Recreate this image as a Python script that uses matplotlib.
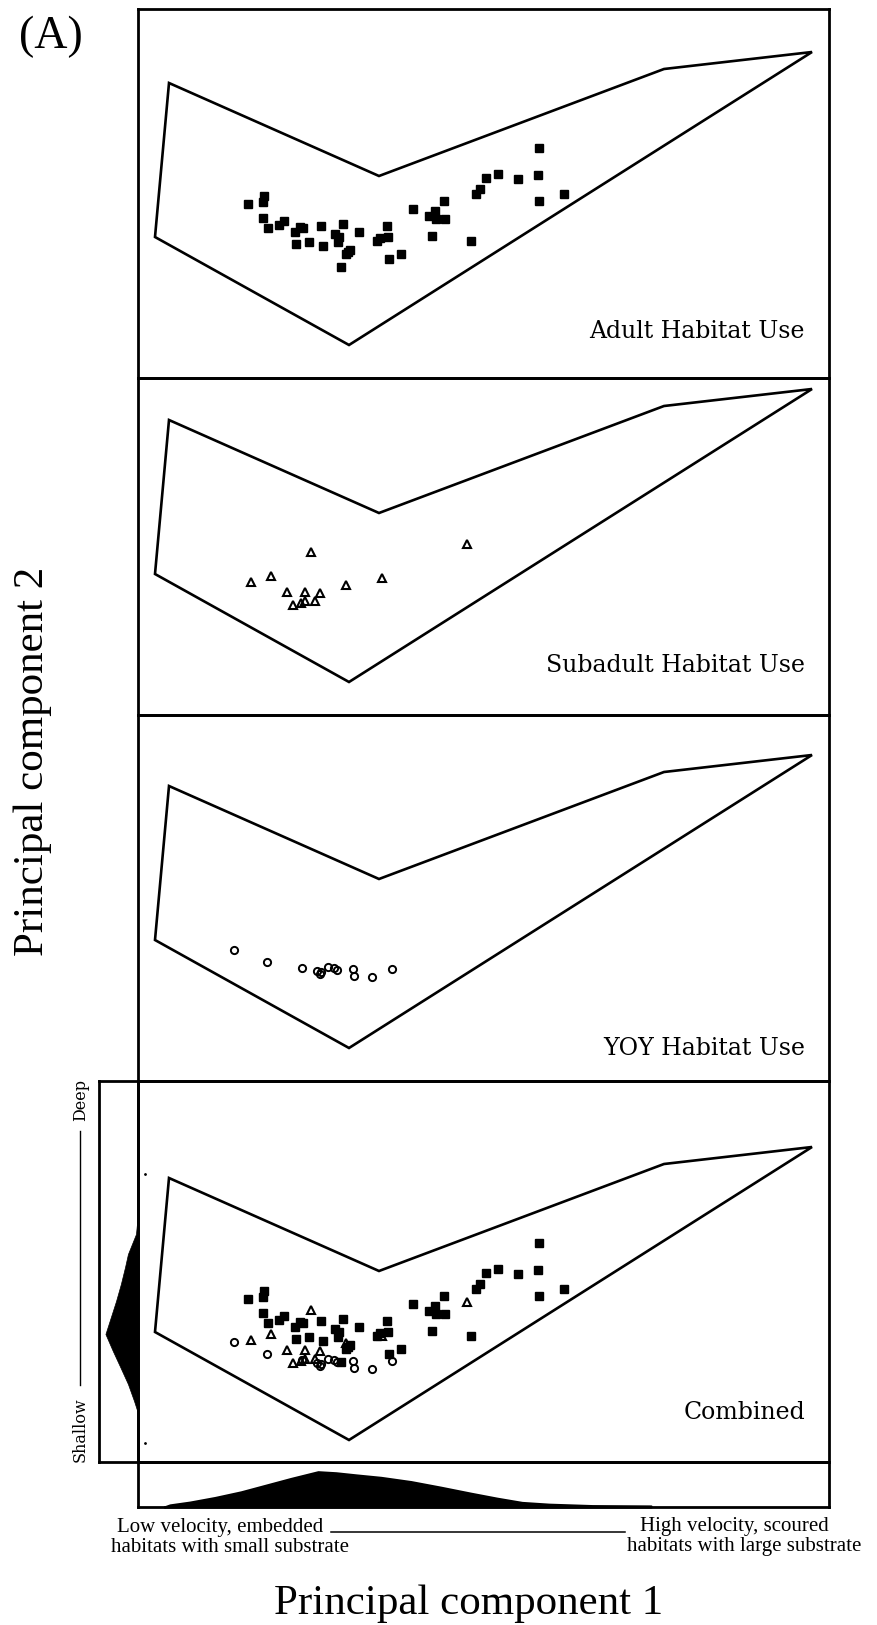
import numpy as np
import matplotlib
matplotlib.use("Agg")
import matplotlib.pyplot as plt

W, H = 877, 1625

# Habitat availability hull (PC1, PC2 scores)
hull_pc1 = [-1.71, 0.39, 3.24, 4.72, 0.09, -1.85]
hull_pc2 = [1.67, 0.74, 1.81, 1.98, -0.95, 0.13]

# Adult habitat use
adult_pc1 = [-0.92, -0.76, -0.77, -0.77, -0.72, -0.61, -0.56, -0.45, -0.40, -0.37,
             -0.44, -0.31, -0.19, -0.17, -0.05, -0.01, -0.02, 0.03, 0.19, 0.08,
             0.10, 0.06, 0.01, 0.37, 0.40, 0.48, 0.47, 0.49, 0.61, 0.73,
             0.89, 0.95, 0.96, 1.05, 1.04, 0.92, 1.31, 1.36, 1.40, 1.46,
             1.58, 1.78, 1.98, 1.99, 1.99, 2.24]
adult_pc2 = [0.46, 0.54, 0.48, 0.32, 0.22, 0.25, 0.29, 0.18, 0.23, 0.22,
             0.06, 0.08, 0.24, 0.04, 0.16, 0.13, 0.08, 0.26, 0.18, -0.02,
             0.00, -0.04, -0.17, 0.09, 0.12, 0.13, 0.24, -0.09, -0.04, 0.41,
             0.34, 0.39, 0.31, 0.31, 0.49, 0.14, 0.09, 0.56, 0.61, 0.72,
             0.76, 0.71, 0.75, 1.02, 0.49, 0.56]

# Subadult habitat use
subadult_pc1 = [-0.89, -0.69, -0.29, -0.53, -0.35, -0.20, -0.47, -0.39, -0.35, -0.25,
                0.06, 0.42, 1.27]
subadult_pc2 = [0.05, 0.11, 0.35, -0.05, -0.05, -0.06, -0.18, -0.16, -0.14, -0.14,
                0.02, 0.09, 0.43]

# Young-of-year habitat use
yoy_pc1 = [-1.06, -0.73, -0.38, -0.23, -0.20, -0.19, -0.12, -0.03, -0.06, 0.13,
           0.14, 0.32, 0.52]
yoy_pc2 = [0.03, -0.09, -0.15, -0.18, -0.21, -0.19, -0.14, -0.17, -0.15, -0.16,
           -0.23, -0.24, -0.16]

# Marginal distributions of available habitat
dens1_pc1 = [-1.76, -1.70, -1.50, -1.25, -0.99, -0.74, -0.49, -0.22, -0.04, 0.16,
             0.41, 0.71, 1.01, 1.31, 1.57, 1.82, 2.09, 2.52, 3.11]
dens1 = [0.0, 0.06, 0.14, 0.27, 0.43, 0.62, 0.81, 1.0, 0.97, 0.91,
         0.84, 0.72, 0.56, 0.39, 0.25, 0.13, 0.08, 0.04, 0.03]
dens2_pc2 = [1.28, 1.11, 0.91, 0.78, 0.61, 0.44, 0.28, 0.11, -0.06, -0.22,
             -0.39, -0.56, -0.67]
dens2 = [0.0, 0.05, 0.30, 0.39, 0.52, 0.67, 0.83, 1.0, 0.77, 0.54,
         0.30, 0.11, 0.0]

titles = ["Adult Habitat Use", "Subadult Habitat Use", "YOY Habitat Use", "Combined"]
pc2_top = [2.41, 2.09, 2.38, 2.64]
pc2_bottom = [-1.28, -1.28, -1.28, -1.17]
pc1_lim = (-2.024, 4.886)


def rect(x0, y0, x1, y1):
    # pixel box (top-left origin) -> figure fraction
    return [x0 / W, 1 - y1 / H, (x1 - x0) / W, (y1 - y0) / H]


def frame(ax):
    ax.set_xticks([])
    ax.set_yticks([])
    ax.patch.set_visible(False)
    for s in ax.spines.values():
        s.set_linewidth(2.0)


serif = "Liberation Serif"
label_font = "DejaVu Serif"

fig = plt.figure(figsize=(W / 100, H / 100), dpi=100)

edges = [9, 378, 715, 1081, 1462]
label_y = [0.109, 0.129, 0.070, 0.114]
sq = dict(ls="none", marker="s", ms=5.3, color="k")
tri = dict(ls="none", marker="^", ms=5.8, mfc="none", mec="k", mew=1.5)
circ = dict(ls="none", marker="o", ms=5.2, mfc="none", mec="k", mew=1.4)

for i in range(4):
    ax = fig.add_axes(rect(137.6, edges[i], 828.6, edges[i + 1]))
    frame(ax)
    ax.set_xlim(pc1_lim)
    ax.set_ylim(pc2_bottom[i], pc2_top[i])
    ax.fill(hull_pc1, hull_pc2, fc="none", ec="k", lw=1.9, joinstyle="miter")
    if i in (0, 3):
        ax.plot(adult_pc1, adult_pc2, **sq)
    if i in (1, 3):
        ax.plot(subadult_pc1, subadult_pc2, **tri)
    if i in (2, 3):
        ax.plot(yoy_pc1, yoy_pc2, **circ)
    if i == 3:
        ax.plot([-1.95, -1.95], [1.71, -0.98], "k.", ms=2)
    ax.text(0.966, label_y[i], titles[i], transform=ax.transAxes, ha="right",
            va="baseline", family=label_font, fontsize=17)

# PC2 marginal, left of the combined panel
axl = fig.add_axes(rect(99, 1081, 137.6, 1462))
frame(axl)
axl.set_xlim(1.2, 0)
axl.set_ylim(pc2_bottom[3], pc2_top[3])
axl.fill_betweenx(dens2_pc2, 0, dens2, color="k", lw=0.5)

# PC1 marginal, below the combined panel
axb = fig.add_axes(rect(137.6, 1462, 828.6, 1507))
frame(axb)
axb.set_xlim(pc1_lim)
axb.set_ylim(0, 1.275)
axb.fill_between(dens1_pc1, 0, dens1, color="k", lw=1.5, clip_on=False)

fig.text(19 / W, 1 - 48 / H, "(A)", family=serif, fontsize=33, ha="left", va="baseline")
fig.text(42.7 / W, 1 - 761 / H, "Principal component 2", family=serif, fontsize=31,
         rotation=90, rotation_mode="anchor", ha="center", va="baseline")
fig.text(469 / W, 1 - 1614 / H, "Principal component 1", family=serif, fontsize=31,
         ha="center", va="baseline")

# PC1 axis descriptors
fig.text(117 / W, 1 - 1532 / H, "Low velocity, embedded", family=serif, fontsize=15,
         ha="left", va="baseline")
fig.text(111 / W, 1 - 1552 / H, "habitats with small substrate", family=serif, fontsize=15,
         ha="left", va="baseline")
fig.text(640 / W, 1 - 1531 / H, "High velocity, scoured", family=serif, fontsize=15,
         ha="left", va="baseline")
fig.text(627 / W, 1 - 1551 / H, "habitats with large substrate", family=serif, fontsize=15,
         ha="left", va="baseline")
fig.add_artist(plt.Line2D([331 / W, 624.6 / W], [1 - 1532 / H, 1 - 1532 / H],
                          color="k", lw=1.1))

# PC2 axis descriptors
fig.text(85 / W, 1 - 1079 / H, "Deep", family=label_font, fontsize=11.5, rotation=90,
         rotation_mode="anchor", ha="right", va="baseline")
fig.text(85 / W, 1 - 1461.7 / H, "Shallow", family=label_font, fontsize=11.5, rotation=90,
         rotation_mode="anchor", ha="left", va="baseline")
fig.add_artist(plt.Line2D([79.5 / W, 79.5 / W], [1 - 1131 / H, 1 - 1385 / H],
                          color="k", lw=1.0))

fig.savefig("out.png", dpi=100)
